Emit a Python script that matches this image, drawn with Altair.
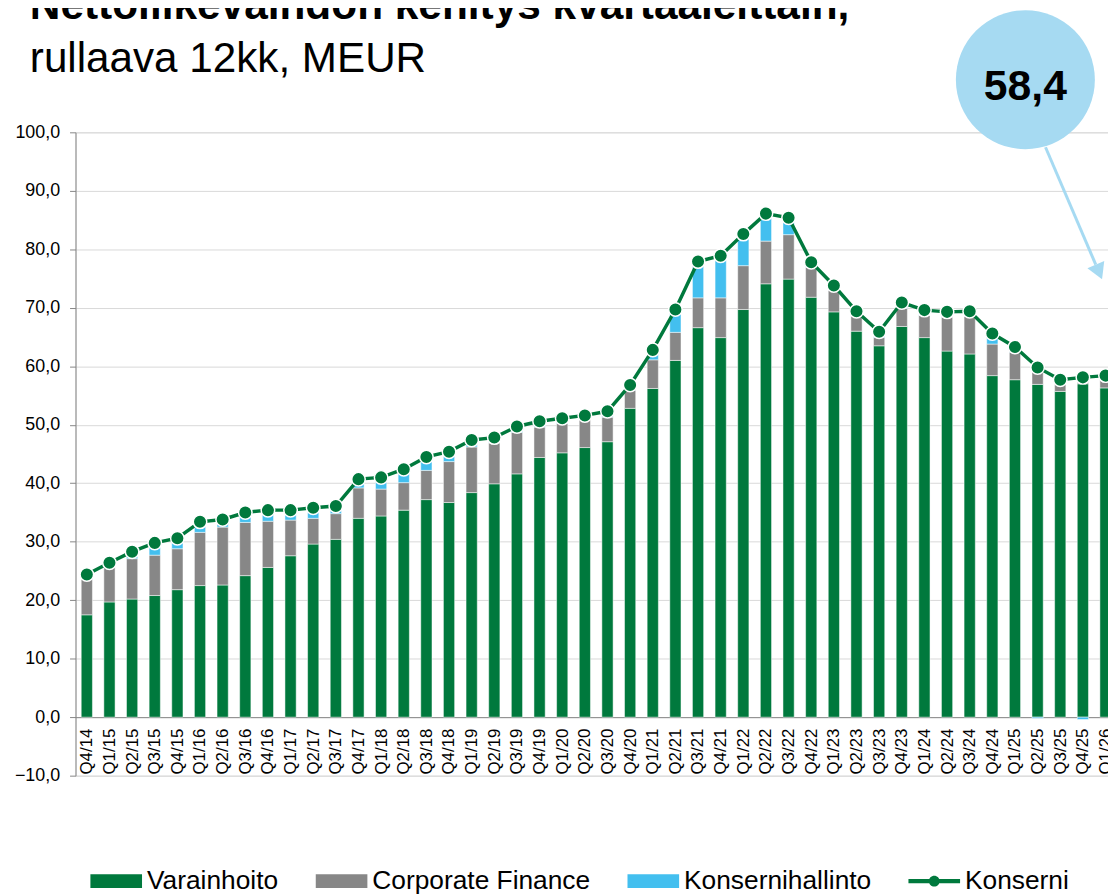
import altair as alt
import pandas as pd

FONT = "Liberation Sans"
GREEN = "#00793D"
GRAY = "#878787"
BLUE = "#43BFEF"
BUBBLE = "#A6DAF2"
AXIS = "#868686"
GRID = "#D9D9D9"

quarters = ["Q4/14", "Q1/15", "Q2/15", "Q3/15", "Q4/15", "Q1/16", "Q2/16", "Q3/16", "Q4/16",
            "Q1/17", "Q2/17", "Q3/17", "Q4/17", "Q1/18", "Q2/18", "Q3/18", "Q4/18",
            "Q1/19", "Q2/19", "Q3/19", "Q4/19", "Q1/20", "Q2/20", "Q3/20", "Q4/20",
            "Q1/21", "Q2/21", "Q3/21", "Q4/21", "Q1/22", "Q2/22", "Q3/22", "Q4/22",
            "Q1/23", "Q2/23", "Q3/23", "Q4/23", "Q1/24", "Q2/24", "Q3/24", "Q4/24",
            "Q1/25", "Q2/25", "Q3/25", "Q4/25", "Q1/26"]

varainhoito = [17.5, 19.7, 20.2, 20.8, 21.8, 22.5, 22.6, 24.2, 25.6, 27.6, 29.6, 30.4, 34.0,
               34.4, 35.4, 37.2, 36.7, 38.4, 39.9, 41.6, 44.4, 45.2, 46.1, 47.1, 52.8,
               56.2, 61.0, 66.6, 64.9, 69.7, 74.1, 74.9, 71.8, 69.3, 66.0, 63.5, 66.8,
               64.9, 62.6, 62.1, 58.4, 57.7, 56.9, 55.7, 57.0, 56.3]
corporate_finance = [6.1, 5.9, 6.9, 6.9, 7.0, 9.1, 9.9, 9.1, 7.9, 6.1, 4.4, 4.4, 5.2,
                     4.6, 4.7, 5.0, 7.0, 7.8, 7.0, 7.1, 5.2, 5.0, 4.8, 4.2, 3.1,
                     4.9, 4.8, 5.1, 6.8, 7.5, 7.3, 7.6, 5.1, 3.7, 2.6, 1.4, 3.1,
                     3.8, 5.8, 6.4, 5.4, 4.7, 3.1, 1.3, 1.5, 1.4]
konsernihallinto = [0.8, 0.8, 1.2, 2.1, 1.8, 1.8, 1.3, 1.7, 1.9, 1.7, 1.8, 1.3, 1.5,
                    2.0, 2.3, 2.3, 1.7, 1.2, 0.9, 1.0, 1.0, 0.9, 0.7, 1.0, 0.9,
                    1.7, 3.9, 6.2, 7.2, 5.4, 4.7, 2.9, 0.9, 0.8, 0.8, 1.0, 1.0,
                    0.9, 0.9, 0.9, 1.8, 0.9, -0.2, 0.7, -0.4, 0.7]
konserni = [24.4, 26.4, 28.3, 29.8, 30.6, 33.4, 33.8, 35.0, 35.4, 35.4, 35.8, 36.1, 40.7,
            41.0, 42.4, 44.5, 45.4, 47.4, 47.8, 49.7, 50.6, 51.1, 51.6, 52.3, 56.8,
            62.8, 69.7, 77.9, 78.9, 82.6, 86.1, 85.4, 77.8, 73.8, 69.4, 65.9, 70.9,
            69.6, 69.3, 69.4, 65.6, 63.3, 59.8, 57.7, 58.1, 58.4]

series_names = ["Varainhoito", "Corporate Finance", "Konsernihallinto", "Konserni"]
title_line1 = "Nettoliikevaihdon kehitys kvartaaleittain,"
title_line2 = "rullaava 12kk, MEUR"
y_ticks = list(range(-10, 101, 10))

idx = list(range(len(quarters)))
rows = []
for k, (name, vals) in enumerate(zip(series_names[:3], [varainhoito, corporate_finance, konsernihallinto])):
    for i, q in enumerate(quarters):
        rows.append({"idx": i, "quarter": q, "series": name, "value": vals[i], "ord": k})
bars_df = pd.DataFrame(rows)
line_df = pd.DataFrame({"idx": idx, "quarter": quarters, "series": "Konserni", "value": konserni})
legend_df = pd.concat([bars_df, line_df], ignore_index=True)

RECT = "M-1,-0.27H1V0.27H-1Z"
LINEDOT = "M-1,-0.08H1V0.08H-1Z M-0.21,0A0.21,0.21 0 1,1 0.21,0A0.21,0.21 0 1,1 -0.21,0Z"

xscale = alt.Scale(domain=[-0.5, 45.11], nice=False, zero=False, padding=0)
yscale = alt.Scale(domain=[-10, 100], nice=False, zero=False, padding=0)
color_scale = alt.Scale(domain=series_names, range=[GREEN, GRAY, BLUE, GREEN])
shape_scale = alt.Scale(domain=series_names, range=[RECT, RECT, RECT, LINEDOT])

label_expr = "[" + ",".join("'%s'" % q for q in quarters) + "][datum.value]"
xaxis = alt.Axis(values=idx, labelExpr=label_expr, labelAngle=270, labelAlign="right",
                 labelBaseline="middle", labelFontSize=17, labelFont=FONT, labelColor="black",
                 labelOverlap=False, labelFlush=False, labelBound=False, ticks=False, grid=False,
                 domainColor=AXIS, domainWidth=1, offset=-58.9, labelPadding=11, title=None)
yaxis = alt.Axis(values=y_ticks, labelExpr="replace(format(datum.value, '.1f'), '.', ',')",
                 labelFontSize=18, labelFont=FONT, labelColor="black", tickSize=6,
                 tickColor=AXIS, domainColor=AXIS, gridColor=GRID, gridWidth=1,
                 labelPadding=10, labelOverlap=False, title=None)

legend = alt.Legend(title=None, orient="none", legendX=15, legendY=728, direction="horizontal",
                    symbolSize=2704, symbolStrokeWidth=0, symbolOpacity=1, labelFontSize=26.5,
                    labelFont=FONT, labelColor="black", labelOffset=5, columnPadding=37,
                    padding=0, labelLimit=500)


def X(field):
    return alt.X(field, scale=xscale, axis=xaxis)


def Y(field, **kw):
    return alt.Y(field, scale=yscale, axis=yaxis, **kw)


bars = alt.Chart(bars_df).mark_bar(size=11.3, stroke="white", strokeWidth=0.5).encode(
    x=X("idx:Q"),
    y=Y("value:Q", stack="zero"),
    color=alt.Color("series:N", scale=color_scale, legend=legend),
    order=alt.Order("ord:Q", sort="ascending"),
)

line = alt.Chart(line_df).mark_line(color=GREEN, strokeWidth=3.5).encode(
    x=X("idx:Q"), y=Y("value:Q"))
points = alt.Chart(line_df).mark_point(shape="circle", filled=True, size=185, fill=GREEN,
                                       stroke="white", strokeWidth=1.5, opacity=1).encode(
    x=X("idx:Q"), y=Y("value:Q"))

legend_layer = alt.Chart(legend_df).mark_point(filled=True, opacity=0).encode(
    x=X("idx:Q"), y=Y("value:Q"),
    color=alt.Color("series:N", scale=color_scale, legend=legend),
    shape=alt.Shape("series:N", scale=shape_scale, legend=legend),
)

# callout bubble with the latest value and arrow
bubble_df = pd.DataFrame({"bx": [41.46], "by": [109.0], "ty": [107.7],
                          "label": [("%.1f" % konserni[-1]).replace(".", ",")]})
bubble = alt.Chart(bubble_df).mark_circle(size=19600, color=BUBBLE, opacity=1).encode(
    x=X("bx:Q"), y=Y("by:Q"))
bubble_text = alt.Chart(bubble_df).mark_text(fontSize=43, fontWeight="bold", font=FONT,
                                             color="black", align="center",
                                             baseline="middle").encode(
    x=X("bx:Q"), y=Y("ty:Q"), text="label:N")
arrow_df = pd.DataFrame({"ax": [42.35], "ay": [97.45], "ax2": [44.57], "ay2": [77.37],
                         "hx": [44.71], "hy": [76.13]})
arrow = alt.Chart(arrow_df).mark_rule(color=BUBBLE, strokeWidth=3).encode(
    x=X("ax:Q"), y=Y("ay:Q"), x2="ax2:Q", y2="ay2:Q")
arrow_head = alt.Chart(arrow_df).mark_point(shape="triangle-up", filled=True, size=340,
                                            angle=156.8, color=BUBBLE, opacity=1).encode(
    x=X("hx:Q"), y=Y("hy:Q"))

title_df = pd.DataFrame({"t1": [title_line1], "t2": [title_line2]})
title1 = alt.Chart(title_df).mark_text(fontSize=42.7, fontWeight="bold", font=FONT, color="black",
                                       align="left", baseline="alphabetic").encode(
    x=alt.value(-46), y=alt.value(-114), text="t1:N")
title2 = alt.Chart(title_df).mark_text(fontSize=42.5, font=FONT, color="black",
                                       align="left", baseline="alphabetic").encode(
    x=alt.value(-46), y=alt.value(-61), text="t2:N")

chart = alt.layer(bars, line, points, legend_layer, arrow, arrow_head, bubble, bubble_text,
                  title1, title2).properties(
    width=1040, height=648,
    autosize=alt.AutoSizeParams(type="none"),
    padding={"left": 68, "top": 122, "right": 0, "bottom": 118},
).configure_view(stroke=None).configure(background="white").configure_axisX(labelOverlap=False)

chart.save("out.html", embed_options={"renderer": "svg", "actions": False})
